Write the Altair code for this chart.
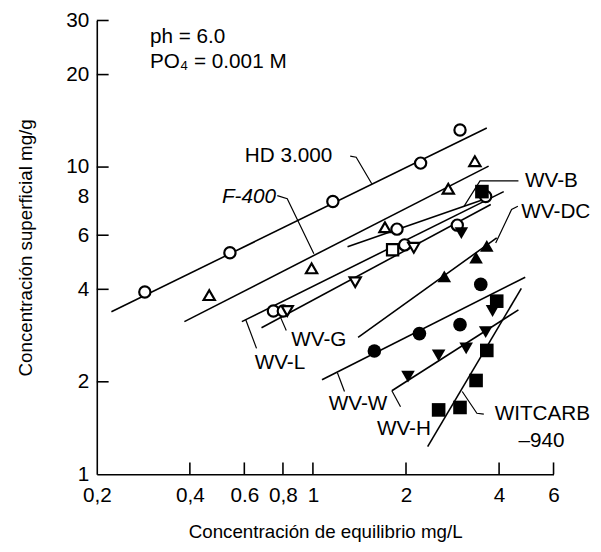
import altair as alt
import pandas as pd

# ---------------- axis ticks ----------------
x_ticks = [0.2, 0.4, 0.6, 0.8, 1, 2, 4, 6]
x_tick_labels = ["0,2", "0,4", "0.6", "0,8", "1", "2", "4", "6"]
y_ticks = [1, 2, 4, 6, 8, 10, 20, 30]
y_tick_labels = ["1", "2", "4", "6", "8", "10", "20", "30"]
x_tick_marks = [0.4, 0.6, 0.8, 1, 2, 4, 6]
y_tick_marks = [2, 4, 6, 10, 20, 30]

# ---------------- measured points ----------------
hd_x = [0.286, 0.539, 1.16, 2.23, 2.99]
hd_y = [3.92, 5.26, 7.73, 10.3, 13.2]
f400_x = [0.462, 0.99, 1.71, 2.74, 3.34]
f400_y = [3.83, 4.68, 6.37, 8.50, 10.45]
wvb_x = [1.87, 3.62]
wvb_y = [6.28, 8.02]
wvb_sq_x = [3.52]
wvb_sq_y = [8.32]
wvl_x = [0.745, 0.802, 1.98]
wvl_y = [3.40, 3.40, 5.58]
wvl_sq_x = [1.81]
wvl_sq_y = [5.38]
wvg_x = [0.826, 1.37, 2.12]
wvg_y = [3.40, 4.22, 5.46]
wvg_c_x = [2.93]
wvg_c_y = [6.47]
wvg_f_x = [3.02]
wvg_f_y = [6.10]
wvdc_x = [2.66, 3.37, 3.65]
wvdc_y = [4.41, 5.07, 5.54]
wvw_x = [1.58, 2.21, 2.99, 3.49]
wvw_y = [2.52, 2.87, 3.07, 4.15]
wvh_x = [2.03, 2.55, 3.13, 3.62, 3.81]
wvh_y = [2.08, 2.44, 2.57, 2.90, 3.40]
wit_x = [2.55, 2.99, 3.37, 3.65, 3.93]
wit_y = [1.62, 1.65, 2.02, 2.53, 3.66]

marker_sets = [
    ("HD 3.000", "circle", False, hd_x, hd_y),
    ("F-400", "triangle-up", False, f400_x, f400_y),
    ("WV-B", "circle", False, wvb_x, wvb_y),
    ("WV-B", "square", True, wvb_sq_x, wvb_sq_y),
    ("WV-L", "circle", False, wvl_x, wvl_y),
    ("WV-L", "square", False, wvl_sq_x, wvl_sq_y),
    ("WV-G", "triangle-down", False, wvg_x, wvg_y),
    ("WV-G", "circle", False, wvg_c_x, wvg_c_y),
    ("WV-G", "triangle-down", True, wvg_f_x, wvg_f_y),
    ("WV-DC", "triangle-up", True, wvdc_x, wvdc_y),
    ("WV-W", "circle", True, wvw_x, wvw_y),
    ("WV-H", "triangle-down", True, wvh_x, wvh_y),
    ("WITCARB-940", "square", True, wit_x, wit_y),
]

# ---------------- fitted isotherm lines (end points) ----------------
line_names = ["HD 3.000", "F-400", "WV-B", "WV-L", "WV-G", "WV-DC", "WV-W", "WV-H", "WITCARB-940"]
line_x0 = [0.223, 0.384, 1.294, 0.589, 0.682, 1.40, 1.07, 1.80, 2.35]
line_y0 = [3.38, 3.14, 5.50, 3.14, 3.00, 2.79, 2.03, 1.87, 1.23]
line_x1 = [3.65, 3.70, 3.62, 4.14, 3.76, 3.93, 4.86, 4.62, 4.72]
line_y1 = [13.4, 10.07, 7.89, 8.32, 7.55, 5.88, 4.38, 3.43, 4.03]

# ---------------- labels ----------------
label_text = ["HD 3.000", "WV-B", "WV-DC", "WV-G", "WV-L", "WV-W", "WV-H", "WITCARB", "\u2013940"]
label_x = [0.602, 4.85, 4.72, 0.851, 0.648, 1.125, 1.61, 3.87, 4.62]
label_y = [10.85, 9.02, 7.12, 2.73, 2.30, 1.69, 1.40, 1.57, 1.285]
italic_text = ["F-400"]
italic_x = [0.508]
italic_y = [7.96]
cond_text = ["ph = 6.0", "PO\u2084 = 0.001 M"]
cond_x = [0.297, 0.297]
cond_y = [26.5, 22.0]

# leader lines (polylines)
leaders = {
    "HD": ([1.32, 1.38, 1.55], [10.85, 10.77, 8.82]),
    "F": ([0.767, 0.826, 1.007], [8.07, 7.89, 5.22]),
    "B": ([4.62, 3.47, 3.08], [9.02, 9.02, 7.45]),
    "DC": ([4.60, 4.39, 3.90], [7.45, 7.28, 5.66]),
    "G": ([0.820, 0.784], [2.94, 3.26]),
    "L": ([0.657, 0.606], [2.57, 3.19]),
    "W": ([1.265, 1.20], [1.86, 2.14]),
    "H": ([1.92, 1.80], [1.66, 1.87]),
    "WIT": ([3.04, 3.39, 3.57], [1.86, 1.58, 1.57]),
}

# ---------------- build tables ----------------
pts = []
for name, shp, filled, xs, ys in marker_sets:
    for xv, yv in zip(xs, ys):
        pts.append({"x": xv, "y": yv, "series": name, "shape": shp, "filled": filled})
pts = pd.DataFrame(pts)

lines = []
for i, n in enumerate(line_names):
    lines.append({"x": line_x0[i], "y": line_y0[i], "id": n, "o": 0})
    lines.append({"x": line_x1[i], "y": line_y1[i], "id": n, "o": 1})
lines = pd.DataFrame(lines)

lead = []
for k, (xs, ys) in leaders.items():
    for j, (xv, yv) in enumerate(zip(xs, ys)):
        lead.append({"x": xv, "y": yv, "id": k, "o": j})
lead = pd.DataFrame(lead)

labels = pd.DataFrame({"x": label_x, "y": label_y, "t": label_text})
ital = pd.DataFrame({"x": italic_x, "y": italic_y, "t": italic_text})
cond = pd.DataFrame({"x": cond_x, "y": cond_y, "t": cond_text})
xt = pd.DataFrame({"x": x_tick_marks})
yt = pd.DataFrame({"y": y_tick_marks})

FONT = "Liberation Sans"

expr = "''"
for v, l in reversed(list(zip(x_ticks, x_tick_labels))):
    expr = f"datum.value == {v} ? '{l}' : ({expr})"
yexpr = "''"
for v, l in reversed(list(zip(y_ticks, y_tick_labels))):
    yexpr = f"datum.value == {v} ? '{l}' : ({yexpr})"

xscale = alt.Scale(type="log", domain=[0.2, 6], nice=False)
yscale = alt.Scale(type="log", domain=[1, 30], nice=False)
xaxis = alt.Axis(values=x_ticks, labelExpr=expr, ticks=False, grid=False,
                 domainColor="black", domainWidth=1.6, labelFont=FONT, labelFontSize=21,
                 labelColor="black", labelPadding=11, labelOverlap=False, labelFlush=False,
                 labelBound=False, title="Concentración de equilibrio mg/L",
                 titleFont=FONT, titleFontSize=19, titleFontWeight="normal",
                 titleColor="black", titleY=58, titleBaseline="middle")
yaxis = alt.Axis(values=y_ticks, labelExpr=yexpr, ticks=False, grid=False,
                 domainColor="black", domainWidth=1.6, labelFont=FONT, labelFontSize=21,
                 labelColor="black", labelPadding=8, labelOverlap=False, labelFlush=False,
                 labelBound=False, title="Concentración superficial mg/g",
                 titleFont=FONT, titleFontSize=19, titleFontWeight="normal",
                 titleColor="black", titleX=-72, titleBaseline="middle")

X = alt.X("x:Q", scale=xscale, axis=xaxis)
Y = alt.Y("y:Q", scale=yscale, axis=yaxis)

line_layer = alt.Chart(lines).mark_line(color="black", strokeWidth=1.6).encode(
    x=X, y=Y, detail="id:N", order="o:Q")
lead_layer = alt.Chart(lead).mark_line(color="black", strokeWidth=1.2).encode(
    x=X, y=Y, detail="id:N", order="o:Q")

open_pts = alt.Chart(pts[~pts["filled"]]).mark_point(
    filled=True, fill="white", stroke="black", strokeWidth=2.2, opacity=1, size=130
).encode(x=X, y=Y, shape=alt.Shape("shape:N", scale=None))
filled_pts = alt.Chart(pts[pts["filled"]]).mark_point(
    filled=True, color="black", opacity=1, size=190
).encode(x=X, y=Y, shape=alt.Shape("shape:N", scale=None))

lab_layer = alt.Chart(labels).mark_text(align="left", baseline="middle", font=FONT,
                                        fontSize=21, color="black").encode(x=X, y=Y, text="t:N")
ital_layer = alt.Chart(ital).mark_text(align="left", baseline="middle", font=FONT,
                                       fontSize=21, fontStyle="italic", color="black").encode(
    x=X, y=Y, text="t:N")
cond_layer = alt.Chart(cond).mark_text(align="left", baseline="middle", font=FONT,
                                       fontSize=21, color="black").encode(x=X, y=Y, text="t:N")

xtick_layer = alt.Chart(xt).mark_rule(color="black", strokeWidth=1.6).encode(
    x=X, y=alt.value(460), y2=alt.value(448))
ytick_layer = alt.Chart(yt).mark_rule(color="black", strokeWidth=1.6).encode(
    y=Y, x=alt.value(0), x2=alt.value(12))

chart = alt.layer(
    line_layer, lead_layer, xtick_layer, ytick_layer, open_pts, filled_pts,
    lab_layer, ital_layer, cond_layer
).properties(
    width=463, height=460,
    padding={"left": 90, "top": 9, "right": 40, "bottom": 66},
    autosize=alt.AutoSizeParams(type="none"),
    background="white",
).configure_view(stroke=None)

chart.save("out.html", embed_options={"renderer": "svg", "actions": False})
